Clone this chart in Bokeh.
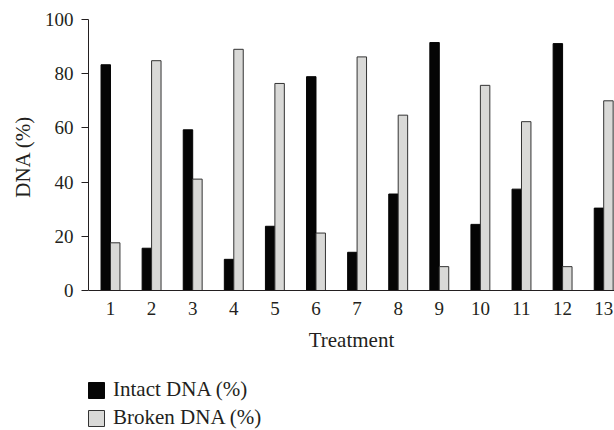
from bokeh.plotting import figure
from bokeh.models import ColumnDataSource, Range1d, FixedTicker, Legend, LegendItem, Title
from bokeh.transform import dodge
from bokeh.embed import file_html
from bokeh.resources import INLINE

treatments = [1, 2, 3, 4, 5, 6, 7, 8, 9, 10, 11, 12, 13]
intact = [83.3, 15.6, 59.3, 11.5, 23.7, 78.9, 14.1, 35.6, 91.5, 24.4, 37.4, 91.1, 30.4]
broken = [17.6, 84.8, 41.1, 89.0, 76.4, 21.2, 86.2, 64.7, 8.8, 75.7, 62.3, 8.8, 70.0]
y_ticks = [0, 20, 40, 60, 80, 100]

FONT = "Liberation Serif"
TXT = "#231f20"

src = ColumnDataSource(dict(treatment=treatments, intact=intact, broken=broken))

# frame runs down to the bottom edge so the legend below the axis is not clipped
p = figure(width=614, height=430, output_backend="svg", toolbar_location=None,
           x_range=Range1d(0.465, 13.263), y_range=Range1d(-51.66, 100),
           min_border_left=88, min_border_right=0, min_border_top=19,
           min_border_bottom=0)
p.outline_line_color = None
p.xgrid.visible = False
p.ygrid.visible = False

bw = 0.23
r1 = p.vbar(x=dodge('treatment', -bw / 2), top='intact', width=bw, source=src,
            fill_color="#050505", line_color="#050505", line_width=1)
r2 = p.vbar(x=dodge('treatment', bw / 2), top='broken', width=bw, source=src,
            fill_color="#d9d9d7", line_color="#333333", line_width=1)

for ax in (p.xaxis[0], p.yaxis[0]):
    ax.axis_line_color = TXT
    ax.axis_line_width = 1
    ax.major_tick_line_color = TXT
    ax.minor_tick_line_color = None
    ax.major_tick_in = 0
    ax.major_label_text_font = FONT
    ax.major_label_text_font_size = "19px"
    ax.major_label_text_color = TXT
    ax.axis_label_text_font = FONT
    ax.axis_label_text_font_size = "21px"
    ax.axis_label_text_font_style = "normal"
    ax.axis_label_text_color = TXT

p.xaxis.fixed_location = 0
p.xaxis.ticker = FixedTicker(ticks=treatments)
p.xaxis.major_tick_out = 0
p.xaxis.major_label_standoff = 11
p.xaxis.axis_label = "Treatment"
p.xaxis.axis_label_standoff = 10

p.yaxis.bounds = (0, 100)
p.yaxis.ticker = FixedTicker(ticks=y_ticks)
p.yaxis.major_tick_out = 7
p.yaxis.major_label_standoff = 8

# y-axis title, centred on the 0-100 part of the axis
p.add_layout(Title(text="DNA (%)", align="right", offset=96, standoff=14,
                   text_font=FONT, text_font_size="21px",
                   text_font_style="normal", text_color=TXT), "left")

legend = Legend(items=[LegendItem(label="Intact DNA (%)", renderers=[r1]),
                       LegendItem(label="Broken DNA (%)", renderers=[r2])],
                location=(-2, 0), orientation="vertical",
                glyph_width=20, glyph_height=20, label_standoff=7, spacing=3,
                padding=0, margin=0, border_line_color=None,
                background_fill_alpha=0,
                label_text_font=FONT, label_text_font_size="21px",
                label_text_color=TXT)
p.add_layout(legend)

open("out.html", "w").write(file_html(p, INLINE))
